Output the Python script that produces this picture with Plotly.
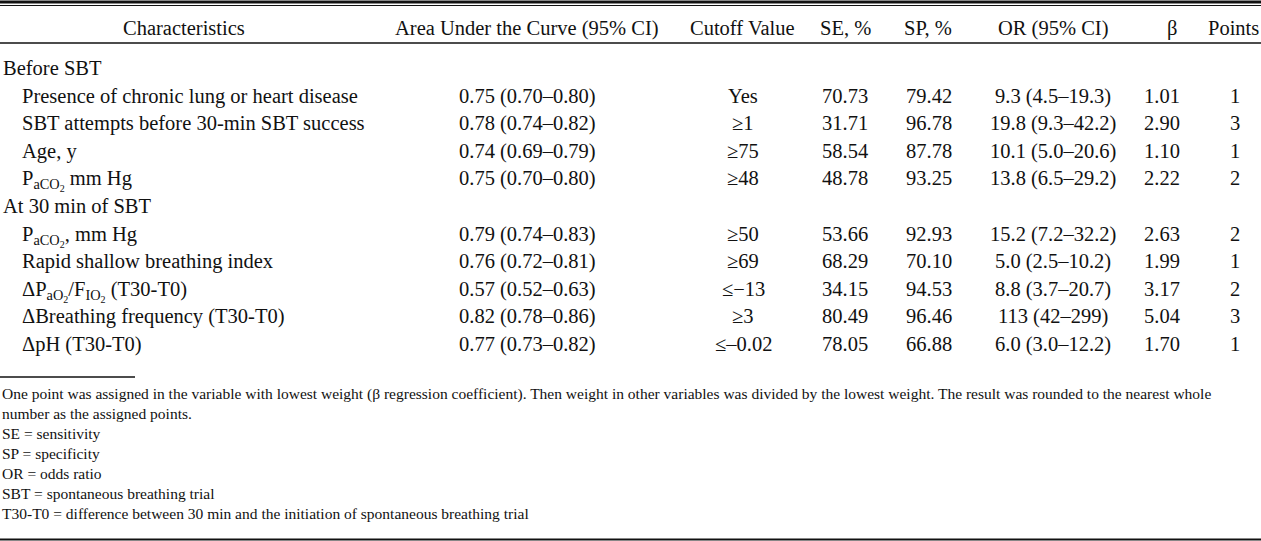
import plotly.graph_objects as go

# ---------------- data ----------------
headers = ["Characteristics", "Area Under the Curve (95% CI)", "Cutoff Value",
           "SE, %", "SP, %", "OR (95% CI)", "β", "Points"]

sections = ["Before SBT", "At 30 min of SBT"]
section_items = [
    ["Presence of chronic lung or heart disease",
     "SBT attempts before 30-min SBT success",
     "Age, y",
     "P<sub>aCO<sub>2</sub></sub> mm Hg"],
    ["P<sub>aCO<sub>2</sub></sub>, mm Hg",
     "Rapid shallow breathing index",
     "ΔP<sub>aO<sub>2</sub></sub>/F<sub>IO<sub>2</sub></sub> (T30-T0)",
     "ΔBreathing frequency (T30-T0)",
     "ΔpH (T30-T0)"],
]

auc = ["0.75 (0.70–0.80)", "0.78 (0.74–0.82)", "0.74 (0.69–0.79)", "0.75 (0.70–0.80)",
       "0.79 (0.74–0.83)", "0.76 (0.72–0.81)", "0.57 (0.52–0.63)", "0.82 (0.78–0.86)",
       "0.77 (0.73–0.82)"]
cutoff = ["Yes", "≥1", "≥75", "≥48", "≥50", "≥69", "≤−13", "≥3", "≤–0.02"]
se = ["70.73", "31.71", "58.54", "48.78", "53.66", "68.29", "34.15", "80.49", "78.05"]
sp = ["79.42", "96.78", "87.78", "93.25", "92.93", "70.10", "94.53", "96.46", "66.88"]
or_ci = ["9.3 (4.5–19.3)", "19.8 (9.3–42.2)", "10.1 (5.0–20.6)", "13.8 (6.5–29.2)",
         "15.2 (7.2–32.2)", "5.0 (2.5–10.2)", "8.8 (3.7–20.7)", "113 (42–299)",
         "6.0 (3.0–12.2)"]
beta = ["1.01", "2.90", "1.10", "2.22", "2.63", "1.99", "3.17", "5.04", "1.70"]
points = ["1", "3", "1", "2", "2", "1", "2", "3", "1"]

footnotes = [
    "One point was assigned in the variable with lowest weight (β regression coefficient). "
    "Then weight in other variables was divided by the lowest weight. The result was rounded to the nearest whole",
    "number as the assigned points.",
    "SE = sensitivity",
    "SP = specificity",
    "OR = odds ratio",
    "SBT = spontaneous breathing trial",
    "T30-T0 = difference between 30 min and the initiation of spontaneous breathing trial",
]

# ---------------- layout ----------------
W, H = 1261, 541
FONT = "Liberation Serif"
BODY = 20.5
FOOT = 15.5
INK = "#111111"

header_x = [184, 527, 742, 845, 928, 1053, 1172, 1233]
col_x = [None, 527, 743, 845, 929, 1053, 1162, 1235]
header_y = 28
row_y0, row_dy = 68, 27.6
foot_y0, foot_dy = 393, 20
TOP_OFF = 13.0  # distance from line-box top to text centre

fig = go.Figure()
fig.update_xaxes(range=[0, W], visible=False, fixedrange=True)
fig.update_yaxes(range=[H, 0], visible=False, fixedrange=True)

ann = []
def add(x, y, t, xa="center", size=BODY):
    off = TOP_OFF * size / BODY
    ann.append(dict(x=x, y=y - off, xref="x", yref="y", text=t, showarrow=False,
                    xanchor=xa, yanchor="top", font=dict(family=FONT, size=size, color=INK)))

for hx, h in zip(header_x, headers):
    add(hx, header_y, h)

columns = [auc, cutoff, se, sp, or_ci, beta, points]
r = 0
k = 0
for s, items in zip(sections, section_items):
    add(1, row_y0 + r * row_dy, s, xa="left")
    r += 1
    for it in items:
        y = row_y0 + r * row_dy
        add(20, y, it, xa="left")
        for cx, col in zip(col_x[1:], columns):
            add(cx, y, col[k])
        r += 1
        k += 1

for i, f in enumerate(footnotes):
    add(0, foot_y0 + i * foot_dy, f, xa="left", size=FOOT)

shapes = [
    dict(type="line", xref="x", yref="y", x0=0, x1=W, y0=2, y1=2, line=dict(color=INK, width=3)),
    dict(type="line", xref="x", yref="y", x0=0, x1=W, y0=5.5, y1=5.5, line=dict(color=INK, width=1)),
    dict(type="line", xref="x", yref="y", x0=0, x1=W, y0=43, y1=43, line=dict(color=INK, width=1.3)),
    dict(type="line", xref="x", yref="y", x0=0, x1=135, y0=377, y1=377, line=dict(color=INK, width=1.3)),
    dict(type="line", xref="x", yref="y", x0=0, x1=W, y0=539.5, y1=539.5, line=dict(color=INK, width=2)),
]

fig.update_layout(width=W, height=H, margin=dict(l=0, r=0, t=0, b=0),
                  paper_bgcolor="white", plot_bgcolor="white",
                  annotations=ann, shapes=shapes, showlegend=False)
fig.write_html("out.html", config={"displayModeBar": False},
               post_script="document.body.style.margin='0';document.body.style.overflow='hidden';")
